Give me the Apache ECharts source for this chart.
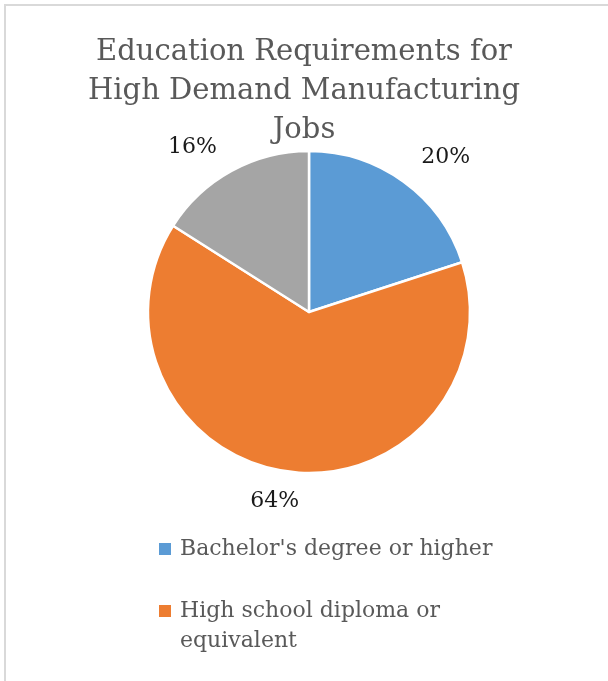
<!DOCTYPE html>
<html>
<head>
<meta charset="utf-8">
<script src="https://cdn.jsdelivr.net/npm/echarts@6/dist/echarts.min.js"></script>
<style>
  html, body { margin: 0; padding: 0; background: #fff; overflow: hidden; }
  #wrap { position: relative; width: 608px; height: 681px; overflow: hidden; }
  #frame { position: absolute; left: 4px; top: 4px; width: 800px; height: 800px;
           border: 2px solid #d9d9d9; box-sizing: border-box; }
  #chart { position: absolute; left: 0; top: 0; width: 608px; height: 681px; }
</style>
</head>
<body>
<div id="wrap">
  <div id="frame"></div>
  <div id="chart"></div>
</div>
<script>
// Education level required, share of high-demand manufacturing jobs (%)
const categories = [
  "Bachelor's degree or higher",
  'High school diploma or equivalent',
  'Some college or associate degree'
];
const shares = [20, 64, 16];
const colors = ['#5B9BD5', '#ED7D31', '#A5A5A5'];
const titleText = 'Education Requirements for\nHigh Demand Manufacturing\nJobs';

const serif = '"DejaVu Serif", "Liberation Serif", serif';
const legendText = { fontFamily: serif, fontSize: 22, color: '#595959', padding: [0, 0, 0, 3],
                     width: 330, overflow: 'break', lineHeight: 30 };

const chart = echarts.init(document.getElementById('chart'), null, { renderer: 'canvas' });
chart.setOption({
  backgroundColor: 'transparent',
  animation: false,
  color: colors,
  title: {
    text: titleText,
    left: 'center',
    top: 28,
    textStyle: { fontFamily: serif, fontWeight: 'normal', fontSize: 29, color: '#595959', lineHeight: 39 }
  },
  legend: [
    {
      data: [categories[0]],
      orient: 'vertical', left: 157, top: 534, padding: 0,
      itemWidth: 14, itemHeight: 14, icon: 'rect',
      textStyle: legendText
    },
    {
      data: [categories[1]],
      orient: 'vertical', left: 157, top: 566, padding: 0,
      itemWidth: 14, itemHeight: 14, icon: 'rect',
      // leading blank line keeps the marker beside the first wrapped line
      formatter: name => '\n' + name,
      textStyle: legendText
    }
  ],
  series: [{
    type: 'pie',
    center: [309, 312],
    radius: [0, 161],
    startAngle: 90,
    clockwise: true,
    avoidLabelOverlap: false,
    itemStyle: { borderColor: '#fff', borderWidth: 2.5 },
    label: {
      show: true,
      position: 'outside',
      formatter: '{c}%',
      fontFamily: serif,
      fontSize: 22,
      color: '#1a1a1a',
      distanceToLabelLine: 0
    },
    labelLine: { show: false, length: 30, length2: 0 },
    labelLayout: function (p) {
      if (p.dataIndex === 1) return { dx: 14 };
      if (p.dataIndex === 2) return { dy: 3 };
      return {};
    },
    emphasis: { disabled: true },
    data: categories.map((name, i) => ({ name: name, value: shares[i] }))
  }]
});
</script>
</body>
</html>
